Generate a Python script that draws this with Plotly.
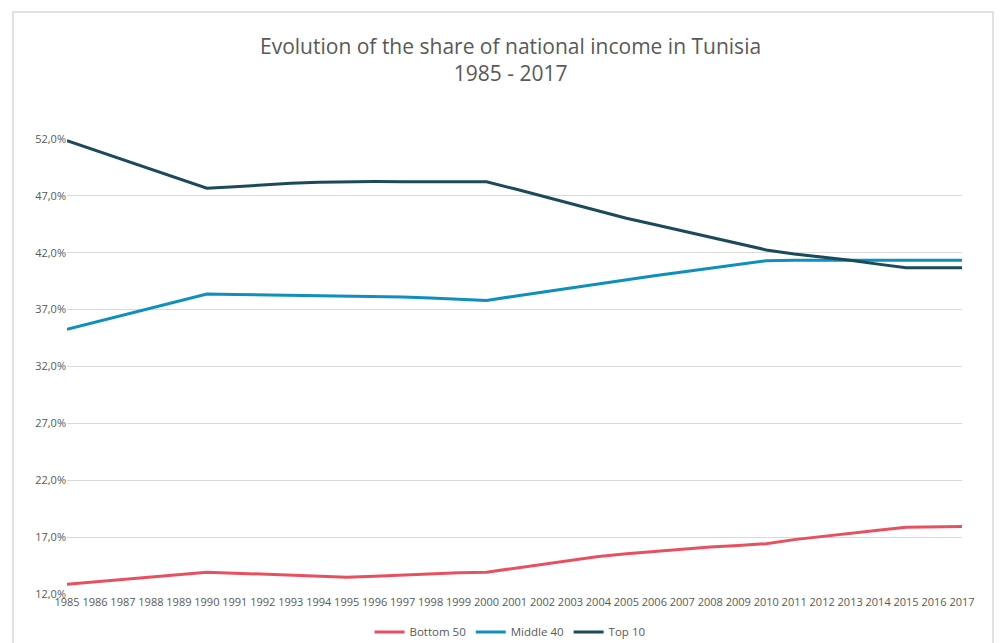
import plotly.graph_objects as go

# Share of national income in Tunisia, 1985-2017 (%)
years = list(range(1985, 2018))

bottom_50 = [12.86, 13.06, 13.27, 13.50, 13.70, 13.92, 13.83, 13.74, 13.65, 13.57,
             13.48, 13.57, 13.68, 13.77, 13.86, 13.92, 14.27, 14.63, 14.98, 15.30,
             15.54, 15.74, 15.96, 16.13, 16.27, 16.42, 16.78, 17.07, 17.34, 17.60,
             17.87, 17.90, 17.93]

middle_40 = [35.26, 35.88, 36.50, 37.13, 37.75, 38.37, 38.34, 38.30, 38.25, 38.22,
             38.22, 38.17, 38.11, 38.02, 37.93, 37.81, 38.18, 38.55, 38.91, 39.28,
             39.65, 39.98, 40.31, 40.64, 40.97, 41.30, 41.33, 41.34, 41.34, 41.34,
             41.34, 41.34, 41.34]

top_10 = [51.85, 51.02, 50.18, 49.35, 48.51, 47.68, 47.80, 47.95, 48.12, 48.20,
          48.26, 48.26, 48.25, 48.25, 48.24, 48.24, 47.62, 46.97, 46.32, 45.68,
          45.04, 44.48, 43.92, 43.37, 42.80, 42.25, 41.90, 41.63, 41.34, 41.00,
          40.69, 40.69, 40.69]

y_ticks = [12, 17, 22, 27, 32, 37, 42, 47, 52]
y_tick_text = [f"{v:.1f}%".replace(".", ",") for v in y_ticks]

title_text = "Evolution of the share of national income in Tunisia<br>1985 - 2017"

series = [
    ("Bottom 50", bottom_50, "#E9505F"),
    ("Middle 40", middle_40, "#0E8FBE"),
    ("Top 10", top_10, "#1B4B5A"),
]

fig = go.Figure()
for name, values, color in series:
    fig.add_trace(go.Scatter(
        x=years, y=values, name=name, mode="lines",
        line=dict(color=color, width=3),
    ))

font_family = "Open Sans, Liberation Sans, sans-serif"
grey = "#595959"

fig.update_layout(
    width=1002, height=643,
    margin=dict(l=67, r=40, t=139, b=49, autoexpand=False),
    paper_bgcolor="white", plot_bgcolor="white",
    font=dict(family=font_family, color=grey, size=11),
    xaxis=dict(
        range=[1985, 2017], tickmode="array", tickvals=years,
        ticktext=[str(y) for y in years], showgrid=False, zeroline=False,
        showline=False, ticks="", tickfont=dict(size=11, color=grey),
        automargin=False,
    ),
    yaxis=dict(
        range=[12, 52], tickmode="array", tickvals=y_ticks, ticktext=y_tick_text,
        showgrid=True, gridcolor="#D9D9D9", gridwidth=1, zeroline=False,
        showline=False, ticks="", tickfont=dict(size=11, color=grey),
        automargin=False,
    ),
    legend=dict(
        orientation="h", x=0.495, xanchor="center", y=-0.0835, yanchor="middle",
        font=dict(size=11.5, color=grey), itemwidth=30,
    ),
    showlegend=True,
)

# Two-line chart title, centred over the chart
fig.add_annotation(
    text=title_text, xref="paper", yref="paper", x=0.495, y=1.1747,
    xanchor="center", yanchor="middle", showarrow=False, align="center",
    font=dict(family=font_family, size=21, color=grey),
)

# Outer chart frame
fig.add_shape(
    type="rect", xref="paper", yref="paper",
    x0=-0.0603, x1=1.0346, y0=-0.2, y1=1.279,
    line=dict(color="#D9D9D9", width=1.5), layer="below",
)

fig.write_html("out.html")
